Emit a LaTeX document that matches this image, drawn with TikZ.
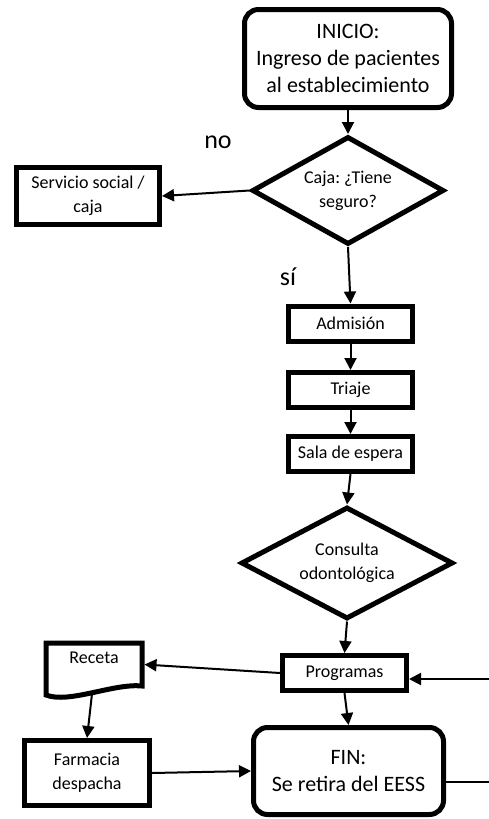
\documentclass[tikz,border=0pt]{standalone}
\usepackage{fontspec}
\setmainfont{Carlito}
\usepackage{tikz}
\usetikzlibrary{positioning, shapes.geometric, arrows.meta, calc}
\frenchspacing

\begin{document}
\begin{tikzpicture}[x=1pt, y=-1pt, font=\fontsize{18}{24}\selectfont, line join=miter,
                term/.style = {draw, rectangle, rounded corners=14pt, line width=5pt, align=center, font=\fontsize{22}{27}\selectfont},
                proc/.style = {draw, rectangle, line width=5pt, align=center, inner sep=0pt, minimum width=124pt, minimum height=35pt},
                dec/.style = {draw, diamond, line width=5pt, align=center, inner sep=0pt},
                lbl/.style = {font=\fontsize{26}{30}\selectfont},
                flow/.style = {-{Triangle[length=12pt, width=12pt]}, line width=2pt},
                link/.style = {line width=2pt}]
                \useasboundingbox (0,0) rectangle (489,819);
                \node[term, minimum width=207pt, minimum height=98pt] (inicio) at (348,58.5) {INICIO:\\Ingreso de pacientes\\al establecimiento};
                \node[dec, minimum width=192pt, minimum height=108pt, aspect=1.7] (caja) [node distance=132pt, below of=inicio] {Caja: ¿Tiene\\seguro?};
                \node[proc] (admision) [node distance=133pt, below of=caja, xshift=2.5pt] {Admisión};
                \node[proc] (triaje) [node distance=66.5pt, below of=admision] {Triaje};
                \node[proc] (sala) [node distance=64pt, below of=triaje] {Sala de espera};
                \node[dec, minimum width=212pt, minimum height=112pt, aspect=1.8] (consulta) [node distance=109pt, below of=sala, xshift=-3.5pt] {Consulta\\odontológica};
                \node[proc] (programas) [node distance=110pt, below of=consulta, xshift=-2.5pt] {Programas};
                \node[term, minimum width=190pt, minimum height=87pt] (fin) [node distance=98pt, below of=programas, xshift=4pt] {FIN:\\Se retira del EESS};
                \node[proc, minimum width=143pt, minimum height=57pt] (servicio) [node distance=260pt, left of=caja, yshift=-5.5pt] {Servicio social /\\caja};
                \node[minimum width=96pt, minimum height=43pt, inner sep=0pt, outer sep=0pt, text height=13pt, text depth=15pt] (receta) [node distance=250.5pt, left of=programas, yshift=8.5pt] {Receta};
                \node[proc, minimum width=125pt, minimum height=65pt] (farmacia) [node distance=108.5pt, below of=receta, xshift=-7pt] {Farmacia\\despacha};
                \node[lbl] (no) at (218,142) {no};
                \node[lbl] (si) at (288,277) {sí};
                \draw[line width=5pt] ($(receta.south west)+(0,9)$) -- (receta.north west) -- (receta.north east) -- (receta.south east) .. controls ($(receta.south)+(20,-3)$) and ($(receta.south)+(-25,18)$) .. coordinate[pos=0.5] (recetab) ($(receta.south west)+(0,9)$) -- cycle;
                \coordinate (progin) at (489,679);
                \coordinate (finout) at (489,782);
                \draw[flow] (inicio.south) -- (caja.north);
                \draw[flow] (caja.west) -- (servicio.east);
                \draw[flow] (caja.south) -- (admision.north);
                \draw[flow] (admision.south) -- (triaje.north);
                \draw[flow] (triaje.south) -- (sala.north);
                \draw[flow] (sala.south) -- (consulta.north);
                \draw[flow] (consulta.south) -- (programas.north);
                \draw[flow] (programas.west) -- ([xshift=2.5pt]receta.east);
                \draw[flow] (programas.south) -- (fin.north);
                \draw[flow] (recetab) -- (farmacia.north);
                \draw[flow] (farmacia.east) -- (fin.west);
                \draw[flow] (progin) -- (progin -| programas.east);
                \draw[link] (fin.east |- finout) -- (finout);
            \end{tikzpicture}
\end{document}
